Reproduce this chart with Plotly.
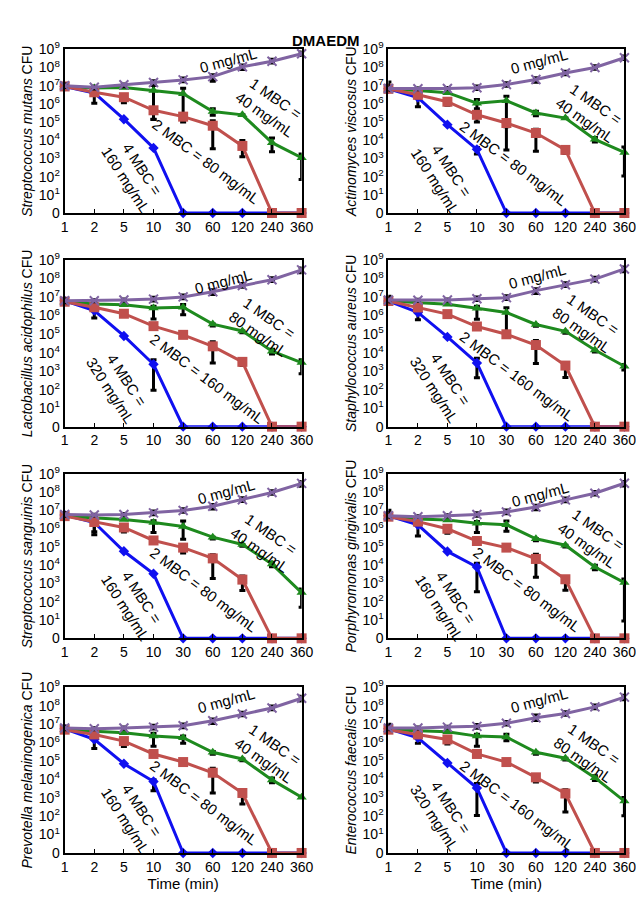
import plotly.graph_objects as go
from plotly.subplots import make_subplots

# ---------------- data (log10 CFU; 0 = no survivors) ----------------
times = ["1", "2", "5", "10", "30", "60", "120", "240", "360"]
ytick_text = ["0"] + [f"10<sup>{k}</sup>" for k in range(1, 10)]

species = ["Streptococcus mutans", "Actinomyces viscosus",
           "Lactobacillus acidophilus", "Staphylococcus aureus",
           "Streptococcus sanguinis", "Porphyromonas gingivalis",
           "Prevotella melaninogenica", "Enterococcus faecalis"]
mbc = ["40", "40", "80", "80", "40", "40", "40", "80"]

# S. mutans
mutans_0 = [7.00, 6.92, 7.05, 7.18, 7.32, 7.50, 8.04, 8.35, 8.76]
mutans_1 = [6.95, 6.87, 6.90, 6.74, 6.56, 5.58, 5.40, 3.87, 3.04]
mutans_2 = [6.96, 6.64, 6.37, 5.65, 5.30, 4.80, 3.69, 0, 0]
mutans_4 = [6.96, 6.60, 5.16, 3.58, 0, 0, 0, 0, 0]
mutans_0_dn = [0.1, 0.1, 0.1, 0.15, 0.1, 0.25, 0.15, 0.1, 0.1]
mutans_0_up = [0.1, 0.05, 0.05, 0.1, 0.1, 0.1, 0.1, 0.1, 0.1]
mutans_1_dn = [0, 0, 0, 1.6, 1.2, 0.2, 0, 0.5, 1.2]
mutans_1_up = [0, 0, 0, 0.3, 0.3, 0.15, 0, 0.25, 0.2]
mutans_2_dn = [0, 0.6, 0.3, 0.5, 0.3, 1.26, 0.6, 0, 0]
mutans_2_up = [0, 0, 0, 0, 0, 0.27, 0.3, 0, 0]
mutans_4_dn = [0, 0, 0, 0, 0, 0, 0, 0, 0]
mutans_4_up = [0, 0, 0, 0, 0, 0, 0, 0, 0]

# A. viscosus
visc_0 = [6.85, 6.83, 6.85, 6.89, 7.07, 7.34, 7.70, 8.00, 8.54]
visc_1 = [6.80, 6.74, 6.62, 6.04, 6.17, 5.50, 5.22, 4.05, 3.33]
visc_2 = [6.83, 6.50, 6.12, 5.40, 4.95, 4.40, 3.47, 0, 0]
visc_4 = [6.83, 6.35, 4.86, 3.50, 0, 0, 0, 0, 0]
visc_0_dn = [0.1, 0.05, 0.05, 0.1, 0.1, 0.15, 0.1, 0.1, 0.1]
visc_0_up = [0.35, 0.05, 0.05, 0.1, 0.1, 0.1, 0.1, 0.1, 0.1]
visc_1_dn = [0, 0, 0, 0.3, 2.7, 0.15, 0, 0.15, 1.3]
visc_1_up = [0, 0, 0, 0.2, 0.25, 0.1, 0, 0.1, 0.3]
visc_2_dn = [0, 0, 0.2, 0.4, 0.2, 1.0, 0.2, 0, 0]
visc_2_up = [0, 0, 0, 0, 0, 0.2, 0.1, 0, 0]
visc_4_dn = [0, 0.5, 0, 0.25, 0, 0, 0, 0, 0]
visc_4_up = [0, 0, 0, 0.1, 0, 0, 0, 0, 0]

# L. acidophilus
lacto_0 = [6.80, 6.80, 6.84, 6.89, 7.01, 7.29, 7.63, 7.94, 8.47]
lacto_1 = [6.75, 6.63, 6.59, 6.41, 6.45, 5.54, 5.17, 4.08, 3.46]
lacto_2 = [6.75, 6.45, 6.10, 5.43, 4.96, 4.34, 3.50, 0, 0]
lacto_4 = [6.80, 6.27, 4.90, 3.37, 0, 0, 0, 0, 0]
lacto_0_dn = [0.1, 0.05, 0.05, 0.1, 0.1, 0.15, 0.1, 0.1, 0.15]
lacto_0_up = [0.1, 0.05, 0.05, 0.1, 0.1, 0.1, 0.1, 0.1, 0.1]
lacto_1_dn = [0, 0, 0, 0.6, 0.4, 0.1, 0.1, 0.15, 0.6]
lacto_1_up = [0, 0, 0, 0.1, 0.15, 0, 0, 0.1, 0.15]
lacto_2_dn = [0, 0, 0.1, 0.1, 0.1, 0.9, 0.2, 0, 0]
lacto_2_up = [0, 0, 0, 0, 0, 0.25, 0, 0, 0]
lacto_4_dn = [0, 0.4, 0, 1.4, 0, 0, 0, 0, 0]
lacto_4_up = [0, 0, 0, 0.25, 0, 0, 0, 0, 0]

# S. aureus
aureus_0 = [6.84, 6.83, 6.84, 6.91, 6.97, 7.35, 7.67, 7.97, 8.52]
aureus_1 = [6.79, 6.70, 6.61, 6.40, 6.17, 5.52, 5.15, 4.14, 3.26]
aureus_2 = [6.79, 6.44, 6.08, 5.41, 4.99, 4.41, 3.30, 0, 0]
aureus_4 = [6.79, 6.17, 4.85, 3.44, 0, 0, 0, 0, 0]
aureus_0_dn = [0.1, 0.05, 0.05, 0.1, 0.1, 0.15, 0.1, 0.1, 0.15]
aureus_0_up = [0.2, 0.05, 0.05, 0.1, 0.1, 0.1, 0.1, 0.1, 0.1]
aureus_1_dn = [0, 0, 0, 0.6, 1.2, 0.1, 0.1, 0.1, 0.2]
aureus_1_up = [0, 0, 0, 0.1, 0.25, 0, 0, 0, 0.1]
aureus_2_dn = [0, 0, 0.15, 0.1, 0.1, 1.0, 0.65, 0, 0]
aureus_2_up = [0, 0, 0, 0, 0, 0.25, 0.15, 0, 0]
aureus_4_dn = [0, 0.4, 0, 0.8, 0, 0, 0, 0, 0]
aureus_4_up = [0, 0, 0, 0.25, 0, 0, 0, 0, 0]

# S. sanguinis
sang_0 = [6.77, 6.74, 6.77, 6.86, 6.99, 7.22, 7.58, 7.97, 8.47]
sang_1 = [6.68, 6.60, 6.50, 6.33, 6.11, 5.53, 5.13, 4.06, 2.50]
sang_2 = [6.68, 6.36, 6.06, 5.35, 4.96, 4.37, 3.21, 0, 0]
sang_4 = [6.74, 6.33, 4.76, 3.53, 0, 0, 0, 0, 0]
sang_0_dn = [0.1, 0.05, 0.05, 0.1, 0.1, 0.15, 0.1, 0.1, 0.15]
sang_0_up = [0.1, 0.05, 0.05, 0.1, 0.1, 0.1, 0.1, 0.1, 0.1]
sang_1_dn = [0, 0, 0, 0.55, 0.7, 0.1, 0.1, 0.15, 0.8]
sang_1_up = [0, 0, 0, 0.1, 0.3, 0, 0, 0.1, 0.2]
sang_2_dn = [0, 0.7, 0.25, 0.1, 0.3, 1.1, 0.6, 0, 0]
sang_2_up = [0, 0, 0, 0, 0, 0.2, 0.2, 0, 0]
sang_4_dn = [0, 0.5, 0, 0, 0, 0, 0, 0, 0]
sang_4_up = [0, 0, 0, 0, 0, 0, 0, 0, 0]

# P. gingivalis
ging_0 = [6.70, 6.65, 6.70, 6.77, 6.91, 7.18, 7.57, 7.93, 8.48]
ging_1 = [6.65, 6.52, 6.47, 6.29, 6.21, 5.44, 5.09, 3.90, 3.05]
ging_2 = [6.65, 6.38, 5.99, 5.32, 4.96, 4.34, 3.23, 0, 0]
ging_4 = [6.70, 6.20, 4.75, 3.90, 0, 0, 0, 0, 0]
ging_0_dn = [0.1, 0.05, 0.05, 0.1, 0.1, 0.15, 0.1, 0.1, 0.15]
ging_0_up = [0.3, 0.05, 0.05, 0.1, 0.1, 0.1, 0.1, 0.1, 0.1]
ging_1_dn = [0, 0, 0, 0.5, 0.35, 0.1, 0.1, 0.15, 2.1]
ging_1_up = [0, 0, 0, 0.1, 0.2, 0, 0, 0.1, 0.2]
ging_2_dn = [0, 0, 0.25, 0.1, 0.1, 1.0, 0.6, 0, 0]
ging_2_up = [0, 0, 0, 0, 0, 0.25, 0.1, 0, 0]
ging_4_dn = [0, 0.6, 0, 1.35, 0, 0, 0, 0, 0]
ging_4_up = [0, 0, 0, 0.2, 0, 0, 0, 0, 0]

# P. melaninogenica
prev_0 = [6.79, 6.75, 6.79, 6.84, 6.91, 7.18, 7.55, 7.88, 8.41]
prev_1 = [6.70, 6.61, 6.53, 6.35, 6.26, 5.47, 5.11, 3.97, 3.03]
prev_2 = [6.70, 6.44, 6.08, 5.38, 4.94, 4.36, 3.26, 0, 0]
prev_4 = [6.75, 6.17, 4.85, 3.88, 0, 0, 0, 0, 0]
prev_0_dn = [0.1, 0.05, 0.05, 0.1, 0.1, 0.15, 0.1, 0.1, 0.15]
prev_0_up = [0.1, 0.05, 0.05, 0.1, 0.1, 0.1, 0.1, 0.1, 0.1]
prev_1_dn = [0, 0, 0, 0.55, 0.3, 0.1, 0.1, 0.15, 0]
prev_1_up = [0, 0, 0, 0.15, 0.1, 0.05, 0, 0.1, 0]
prev_2_dn = [0, 0, 0.3, 0.1, 0.1, 1.1, 0.6, 0, 0]
prev_2_up = [0, 0, 0, 0, 0, 0.25, 0.15, 0, 0]
prev_4_dn = [0, 0.5, 0, 0.5, 0, 0, 0, 0, 0]
prev_4_up = [0, 0, 0, 0.1, 0, 0, 0, 0, 0]

# E. faecalis
faec_0 = [6.79, 6.79, 6.84, 6.88, 7.05, 7.35, 7.58, 7.94, 8.47]
faec_1 = [6.70, 6.65, 6.58, 6.35, 6.30, 5.47, 5.15, 4.09, 2.82]
faec_2 = [6.70, 6.44, 6.17, 5.38, 4.94, 4.11, 3.23, 0, 0]
faec_4 = [6.75, 6.26, 4.89, 3.53, 0, 0, 0, 0, 0]
faec_0_dn = [0.1, 0.05, 0.05, 0.1, 0.1, 0.15, 0.1, 0.1, 0.15]
faec_0_up = [0.2, 0.05, 0.05, 0.1, 0.1, 0.15, 0.1, 0.1, 0.1]
faec_1_dn = [0, 0, 0, 0.55, 0.2, 0.1, 0.1, 0.15, 0.8]
faec_1_up = [0, 0, 0, 0.1, 0.15, 0, 0, 0.1, 0.2]
faec_2_dn = [0, 0, 0.25, 0.1, 0.1, 0.25, 1.0, 0, 0]
faec_2_up = [0, 0, 0, 0, 0, 0, 0.2, 0, 0]
faec_4_dn = [0, 0.3, 0, 1.5, 0, 0, 0, 0, 0]
faec_4_up = [0, 0, 0, 0.25, 0, 0, 0, 0, 0]

panel_series = [
    (mutans_0, mutans_1, mutans_2, mutans_4),
    (visc_0, visc_1, visc_2, visc_4),
    (lacto_0, lacto_1, lacto_2, lacto_4),
    (aureus_0, aureus_1, aureus_2, aureus_4),
    (sang_0, sang_1, sang_2, sang_4),
    (ging_0, ging_1, ging_2, ging_4),
    (prev_0, prev_1, prev_2, prev_4),
    (faec_0, faec_1, faec_2, faec_4),
]
panel_err = [
    ((mutans_0_dn, mutans_0_up), (mutans_1_dn, mutans_1_up), (mutans_2_dn, mutans_2_up), (mutans_4_dn, mutans_4_up)),
    ((visc_0_dn, visc_0_up), (visc_1_dn, visc_1_up), (visc_2_dn, visc_2_up), (visc_4_dn, visc_4_up)),
    ((lacto_0_dn, lacto_0_up), (lacto_1_dn, lacto_1_up), (lacto_2_dn, lacto_2_up), (lacto_4_dn, lacto_4_up)),
    ((aureus_0_dn, aureus_0_up), (aureus_1_dn, aureus_1_up), (aureus_2_dn, aureus_2_up), (aureus_4_dn, aureus_4_up)),
    ((sang_0_dn, sang_0_up), (sang_1_dn, sang_1_up), (sang_2_dn, sang_2_up), (sang_4_dn, sang_4_up)),
    ((ging_0_dn, ging_0_up), (ging_1_dn, ging_1_up), (ging_2_dn, ging_2_up), (ging_4_dn, ging_4_up)),
    ((prev_0_dn, prev_0_up), (prev_1_dn, prev_1_up), (prev_2_dn, prev_2_up), (prev_4_dn, prev_4_up)),
    ((faec_0_dn, faec_0_up), (faec_1_dn, faec_1_up), (faec_2_dn, faec_2_up), (faec_4_dn, faec_4_up)),
]

# label positions (x = category index, y = log10 position) per panel
label_pos = [
    [(5.5, 8.4), (6.94, 5.88), (4.78, 2.82), (2.33, 2.1)],
    [(5.09, 8.33), (6.86, 5.54), (4.26, 2.75), (1.88, 2.03)],
    [(5.35, 7.86), (6.73, 5.4), (4.8, 2.58), (1.82, 2.23)],
    [(5.03, 8.11), (6.75, 5.64), (4.37, 2.73), (1.83, 2.29)],
    [(5.46, 8.02), (6.79, 5.26), (4.69, 2.67), (2.32, 1.96)],
    [(5.14, 7.89), (6.91, 5.5), (4.7, 2.66), (1.99, 1.95)],
    [(5.46, 8.29), (6.9, 5.47), (4.69, 2.73), (2.32, 2.03)],
    [(5.09, 8.29), (6.8, 5.47), (4.37, 2.56), (1.83, 2.2)],
]

# ---------------- styling ----------------
FONT = "Arial, Liberation Sans, sans-serif"
COL_P, COL_G, COL_R, COL_B = "#8064A2", "#1E8A1E", "#C0504D", "#1010F0"
x_dom = [[54 / 644, 297 / 644], [386 / 644, 628 / 644]]
y_px = [(32, 199), (247, 417), (465, 633), (683, 852)]

fig = make_subplots(rows=4, cols=2, horizontal_spacing=0.05, vertical_spacing=0.05)

def err(dn, up):
    d = [v if (v or u) else None for v, u in zip(dn, up)]
    u2 = [u if (v or u) else None for v, u in zip(dn, up)]
    return dict(type="data", symmetric=False, array=u2, arrayminus=d,
                color="black", thickness=3, width=3)

for p in range(8):
    r, c = p // 2 + 1, p % 2 + 1
    s0, s1, s2, s4 = panel_series[p]
    e0, e1, e2, e4 = panel_err[p]
    order = [
        (s4, e4, COL_B, dict(symbol="diamond", size=8, color=COL_B)),
        (s1, e1, COL_G, dict(symbol="triangle-up", size=9, color=COL_G)),
        (s2, e2, COL_R, dict(symbol="square", size=10, color=COL_R)),
        (s0, e0, COL_P, dict(symbol="x-thin", size=9, color=COL_P,
                             line=dict(color=COL_P, width=2))),
    ]
    for vals, e, col, mk in order:
        fig.add_trace(go.Scatter(
            x=times, y=vals, mode="lines+markers",
            line=dict(color=col, width=3), marker=mk,
            error_y=err(*e), cliponaxis=False, showlegend=False,
            hoverinfo="x+y"), row=r, col=c)

    c1 = mbc[p]
    c2 = str(int(c1) * 2)
    c4 = str(int(c1) * 4)
    texts = ["0 mg/mL", f"1 MBC =<br>{c1} mg/mL", f"2 MBC = {c2} mg/mL",
             f"4 MBC =<br>{c4} mg/mL"]
    angles = [-15, 35, 37, 57]
    idx = p + 1
    xref = "x" if idx == 1 else f"x{idx}"
    yref = "y" if idx == 1 else f"y{idx}"
    for t, a, (ax_, ay_) in zip(texts, angles, label_pos[p]):
        fig.add_annotation(x=ax_, y=ay_, xref=xref, yref=yref, text=t,
                           textangle=a, showarrow=False,
                           font=dict(family=FONT, size=15, color="black"))

    top, bot = y_px[r - 1]
    fig.update_xaxes(row=r, col=c, domain=x_dom[c - 1], range=[0, 8],
                     type="category", categoryorder="array", categoryarray=times,
                     showline=True, mirror=True, linecolor="black", linewidth=2,
                     ticks="inside", ticklen=4, tickcolor="black", tickwidth=1,
                     showgrid=False, zeroline=False,
                     tickfont=dict(family=FONT, size=14, color="black"),
                     title=dict(text="Time (min)" if r == 4 else "",
                                font=dict(family=FONT, size=15, color="black"),
                                standoff=2))
    fig.update_yaxes(row=r, col=c, domain=[1 - bot / 900, 1 - top / 900],
                     range=[0, 9], tickvals=list(range(10)), ticktext=ytick_text,
                     showline=True, mirror=True, linecolor="black", linewidth=2,
                     ticks="", showgrid=False, zeroline=False,
                     tickfont=dict(family=FONT, size=14, color="black"),
                     title=dict(text=f"<i>{species[p]}</i> CFU",
                                font=dict(family=FONT, size=14, color="black"),
                                standoff=3))

fig.add_annotation(x=0.5, y=1 - 12 / 900, xref="paper", yref="paper",
                   text="<b>DMAEDM</b>", showarrow=False,
                   font=dict(family=FONT, size=15, color="black"))

fig.update_layout(width=644, height=900, margin=dict(l=0, r=0, t=0, b=0),
                  plot_bgcolor="white", paper_bgcolor="white",
                  font=dict(family=FONT, color="black"))

fig.write_html("out.html")
